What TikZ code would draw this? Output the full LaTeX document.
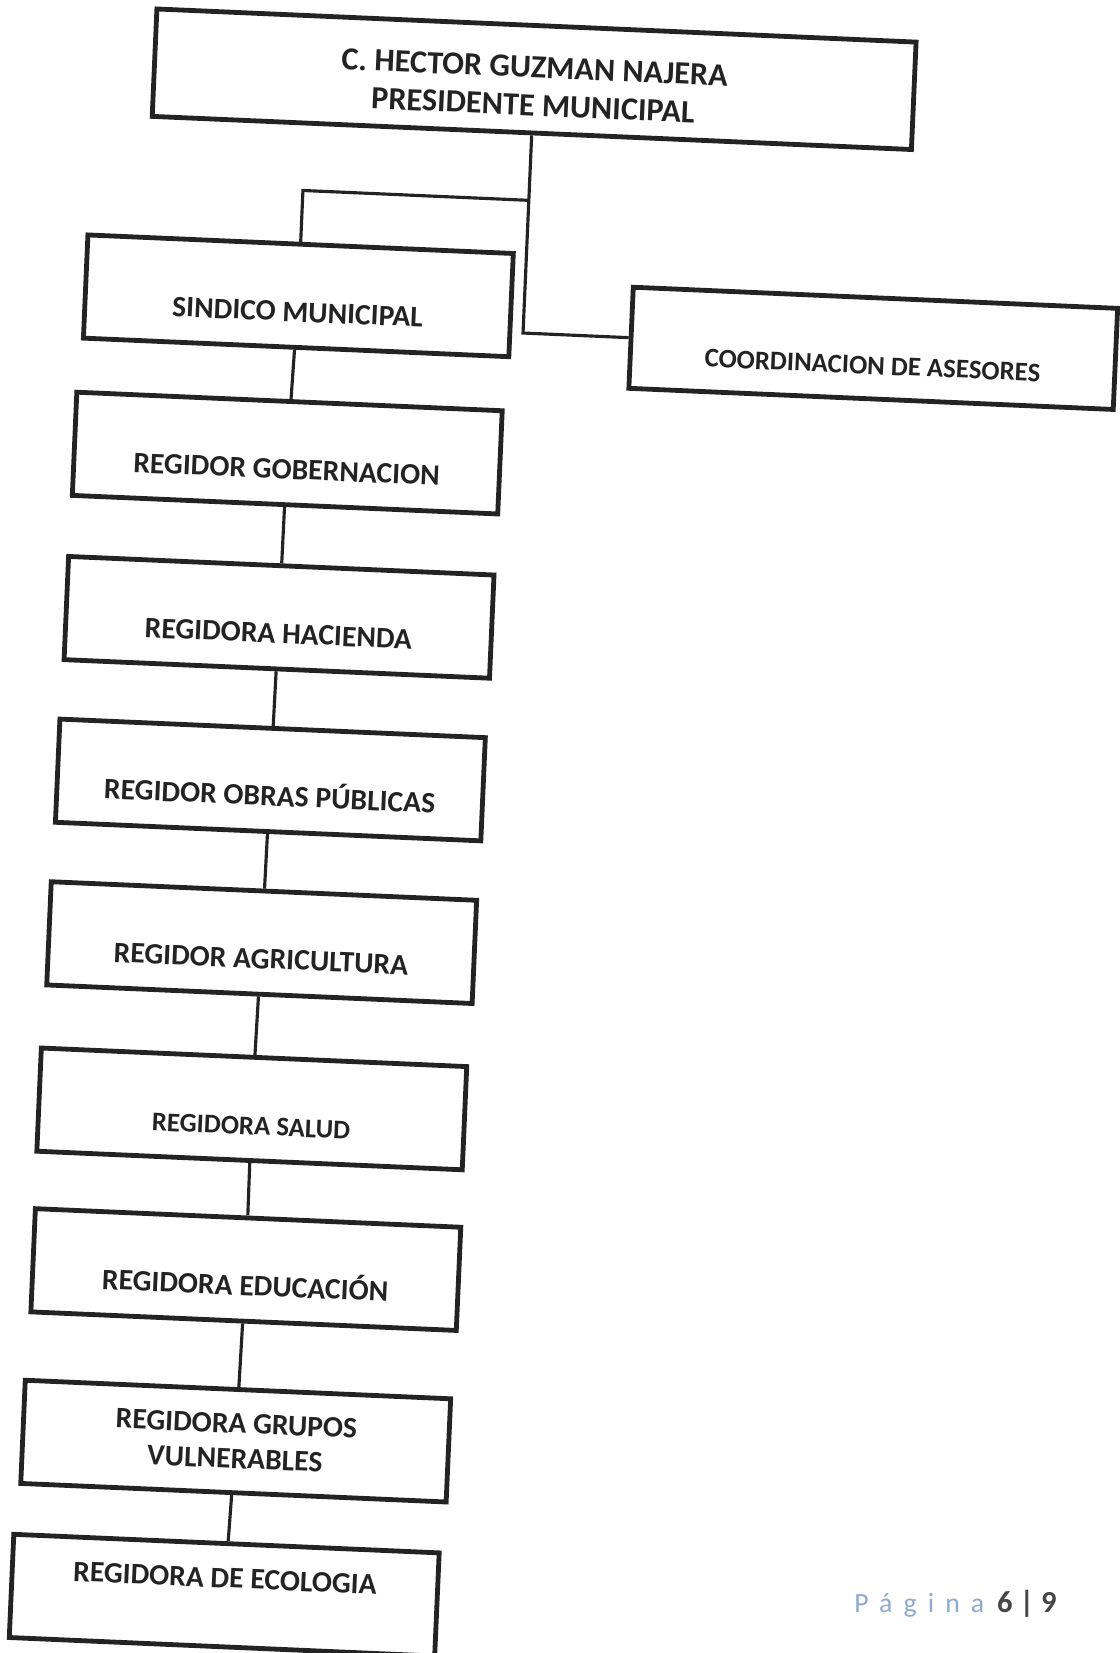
\documentclass[tikz,border=0pt]{standalone}
\usepackage{fontspec}
\setmainfont{Carlito}
\newfontfamily\pagfont[LetterSpace=40]{Carlito}
\definecolor{tinta}{RGB}{35,35,35}
\definecolor{azulpag}{RGB}{140,170,210}
\definecolor{grispag}{RGB}{70,70,70}
\tikzset{
  cargo/.style={draw=tinta, line width=2.6pt, minimum width=8.08cm, minimum height=1.96cm,
    inner sep=0pt, text=tinta, font=\fontsize{16pt}{19pt}\selectfont\bfseries},
  bajo/.style={text height=28pt, text depth=0pt},
  alto/.style={text height=10pt, text depth=18pt},
  linea/.style={draw=tinta, line width=1.7pt},
}

\begin{document}
\begin{tikzpicture}[x=0.02cm, y=-0.02cm]
\useasboundingbox (0,0) rectangle (1062,1568);
\begin{scope}[rotate=-2.5, transform shape]
% presidente y asesores
\node[cargo, minimum width=14.42cm, minimum height=2.04cm, align=center,
  font=\fontsize{17.4pt}{20.5pt}\selectfont\bfseries] (pres) at (509.5,53)
  {\rule{0pt}{19pt}C. HECTOR GUZMAN NAJERA\\PRESIDENTE MUNICIPAL};
\node[cargo, bajo, minimum width=9.2cm, minimum height=1.92cm,
  font=\fontsize{14.5pt}{17pt}\selectfont\bfseries] (ases) at (842,294) {COORDINACION DE ASESORES};
% cabildo
\node[cargo, bajo] (sind) at (295,268) {SINDICO MUNICIPAL};
\node[cargo, bajo] (gob) at (291,417.5) {REGIDOR GOBERNACION};
\node[cargo, bajo] (hac) at (290,573.5) {REGIDORA HACIENDA};
\node[cargo, bajo] (obras) at (288.5,728) {REGIDOR OBRAS PÚBLICAS};
\node[cargo, bajo] (agri) at (287,882.5) {REGIDOR AGRICULTURA};
\node[cargo, bajo, font=\fontsize{14.5pt}{17pt}\selectfont\bfseries] (salud) at (284.5,1040.5) {REGIDORA SALUD};
\node[cargo, bajo] (edu) at (285.5,1193) {REGIDORA EDUCACIÓN};
\node[cargo, align=center] (vuln) at (283,1356) {REGIDORA GRUPOS\\VULNERABLES};
\node[cargo, alto] (eco) at (278.5,1502.5) {REGIDORA DE ECOLOGIA};
% uniones
\coordinate (split) at (509.5,168);
\coordinate (izq) at (295,168);
\coordinate (codo) at (509.5,294);
\draw[linea] (pres.south) -- (codo) -- (ases.west);
\draw[linea] (split) -- (izq) -- (sind.north);
\path[linea]
(sind) edge (gob)
(gob) edge (hac)
(hac) edge (obras)
(obras) edge (agri)
(agri) edge (salud)
(salud) edge (edu)
(edu) edge (vuln)
(vuln) edge (eco)
;
\end{scope}
\node[anchor=base west, inner sep=0pt] (pagina) at (810,1530)
  {{\pagfont\fontsize{15pt}{17pt}\selectfont\color{azulpag}Página}\hspace{7pt}{\fontsize{16.5pt}{18pt}\selectfont\bfseries\color{grispag}6 | 9}};
\end{tikzpicture}
\end{document}
